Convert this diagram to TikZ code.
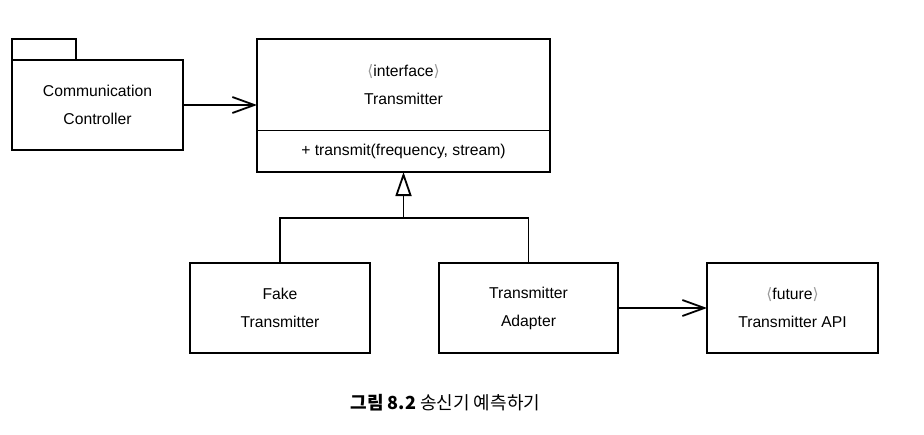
\documentclass[tikz,border=0pt]{standalone}
\usepackage{fontspec}
\setmainfont{Liberation Sans}
\newfontfamily\krfont{Noto Sans CJK KR}
\newfontfamily\symfont{DejaVu Sans}
\usetikzlibrary{arrows.meta, positioning}
\tikzset{
    classbox/.style={rectangle, draw=black, line width=1.8pt, outer sep=0pt, inner sep=0pt, align=center, minimum width=180pt, minimum height=90pt, font=\fontsize{15.7}{28}\selectfont},
    tabbox/.style={rectangle, draw=black, line width=1.8pt, outer sep=0pt, minimum width=64pt, minimum height=21pt},
    assoc/.style={line width=1.8pt, -{Straight Barb[length=22pt, width=16pt]}},
    realize/.style={line width=1.8pt, -{Triangle[open, length=24pt, width=16pt]}},
    link/.style={line width=1.8pt},
}
\newcommand{\stereo}[1]{\textcolor{gray!80}{\symfont ⟨}#1\textcolor{gray!80}{\symfont ⟩}}

\begin{document}
\begin{tikzpicture}[x=1pt, y=-1pt]
  \useasboundingbox (0,0) rectangle (924,434);

  \node[classbox, minimum width=293pt, minimum height=91.5pt] (iface) at (403.5,84.75) {\stereo{interface}\\Transmitter};
  \node[classbox, minimum width=293pt, minimum height=41.5pt, below=0pt of iface] (ops) {+ transmit(frequency, stream)};

  \node[classbox, minimum width=171pt] (ctrl) at (97.5,105) {Communication\\Controller};
  \node[tabbox, anchor=south west] (tab) at (ctrl.north west) {};

  \node[classbox] (fake) at (280,308) {Fake\\Transmitter};
  \node[classbox, minimum width=179pt, right=69pt of fake] (adapter) {Transmitter\\Adapter};
  \node[classbox, minimum width=171pt, right=89pt of adapter] (api) {\stereo{future}\\Transmitter API};

  \coordinate[below=46pt of ops.south] (jn);

  \draw[assoc] (ctrl.east) -- (ctrl.east -| iface.west);
  \draw[link] (fake.north) |- (jn) -| (adapter.north);
  \draw[realize] (jn) -- (ops.south);
  \draw[assoc] (adapter.east) -- (api.west);

  \node (cap) at (445.5,403) {\krfont\fontsize{18}{20}\selectfont\textbf{그림 8.2} 송신기 예측하기};
\end{tikzpicture}
\end{document}
